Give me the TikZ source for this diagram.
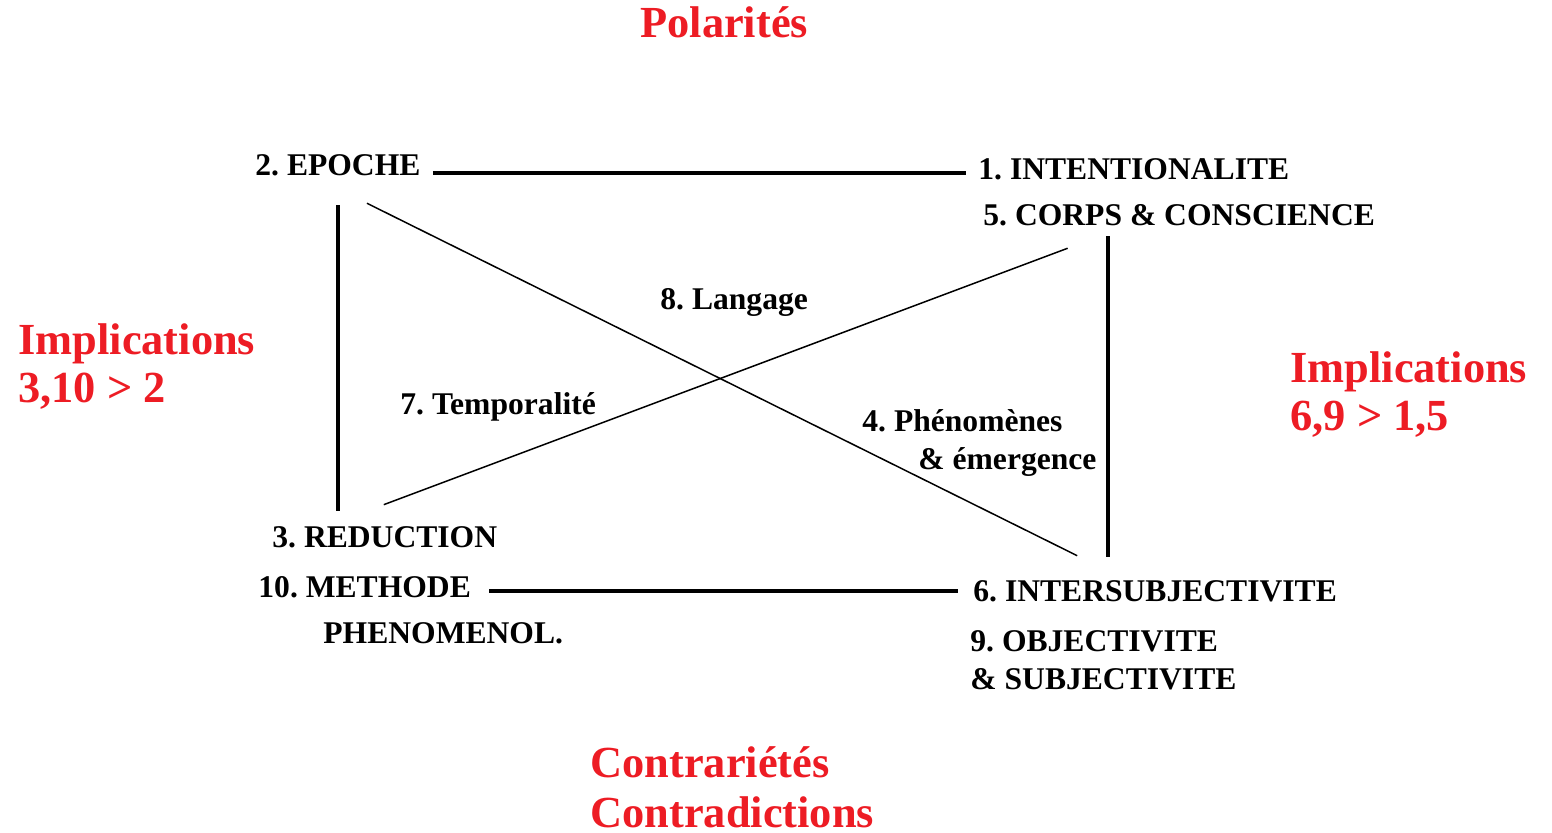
\documentclass[tikz,border=0pt]{standalone}
\usepackage{fontspec}
\setmainfont{Liberation Serif}
\usepackage{tikz}
\frenchspacing
\definecolor{reddish}{RGB}{237, 28, 36}
\tikzset{
  phnode/.style = {inner sep=6pt, anchor=base west,
    font=\fontsize{15.8}{19}\selectfont\bfseries},
  ph_c/.style = {phnode, black},% concept
  ph_m/.style = {phnode, anchor=north west, align=left},% concept sur deux lignes
  ph_r/.style = {phnode, reddish, inner sep=0pt, anchor=north west, align=left,
    font=\fontsize{22.2}{24}\selectfont\bfseries},% relation, en rouge
  ln_f/.style = {line width=2pt},% trait fort
  ln_d/.style = {line width=0.75pt},% diagonale
}
\begin{document}
\begin{tikzpicture}[x=0.5pt,y=-0.5pt]
\useasboundingbox (0,0) rectangle (1552,833);
% les relations
\node [ph_r, anchor=base west] (polar) at (640,38) {Polarités};
\node [ph_r] (impl_g) at (18,323) {Implications\\3,10 > 2};
\node [ph_r] (impl_d) at (1290,351) {Implications\\6,9 > 1,5};
\node [ph_r] (contra) at (590,746) {Contrariétés\\[1pt]Contradictions};
% les concepts
\node [ph_c] (epoche) at (243,176) {2. EPOCHE};
\node [ph_c] (intent) at (966,180) {1. INTENTIONALITE};
\node [ph_c] (corps) at (971,226) {5. CORPS \& CONSCIENCE};
\node [ph_c] (reduc) at (260,547) {3. REDUCTION};
\node [ph_c] (methode) at (246,597) {10. METHODE};
\node [ph_c] (phenom) at (311,643) {PHENOMENOL.};
\node [ph_c] (inters) at (961,601) {6. INTERSUBJECTIVITE};
\node [ph_m] (object) at (958,618) {9. OBJECTIVITE\\\& SUBJECTIVITE};
\node [ph_c] (langage) at (648,310) {8. Langage};
\node [ph_c] (tempo) at (388,415) {7. Temporalité};
\node [ph_c] (phenon) at (850,432) {4. Phénomènes};
\node [ph_c] (emerg) at (906,470) {\& émergence};
% le carre
\draw [ln_f] ([yshift=-3.6pt]epoche.east) -- ([yshift=-3.6pt]epoche.east -| intent.west);
\draw [ln_f] ([xshift=3pt,yshift=-2.1pt]methode.east) -- ([xshift=-1.5pt,yshift=-2.1pt]methode.east -| inters.west);
\draw [ln_f] ([yshift=-8.2pt]epoche.south) -- ([yshift=1.5pt]epoche.south |- reduc.north);
\draw [ln_f] ([xshift=-35.75pt,yshift=1.3pt]corps.south) -- ([xshift=-35.75pt,yshift=5.5pt]corps.south |- inters.north);
% les diagonales
\draw [ln_d] ([xshift=14.5pt,yshift=-7.2pt]epoche.south) -- ([xshift=-39pt,yshift=6pt]inters.north);
\draw [ln_d] ([xshift=-0.5pt,yshift=4.5pt]reduc.north) -- ([xshift=-55.75pt,yshift=-4.7pt]corps.south);
\end{tikzpicture}
\end{document}
